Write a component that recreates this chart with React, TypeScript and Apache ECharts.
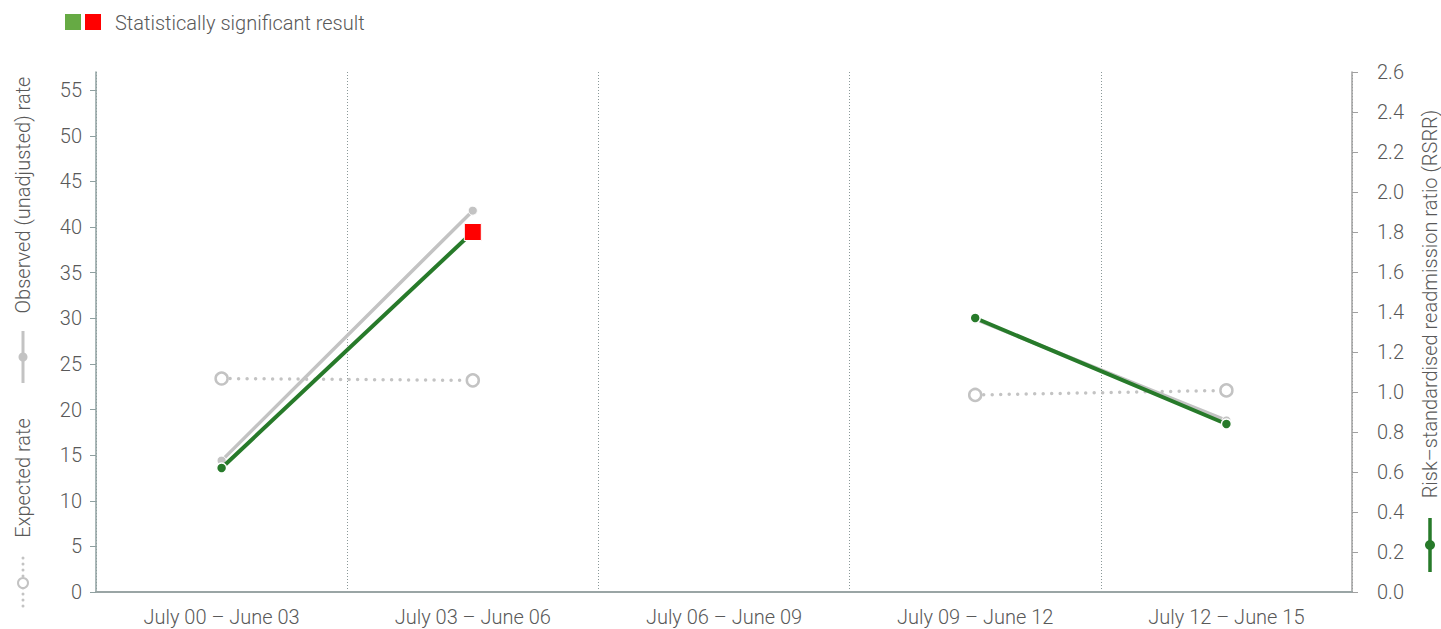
import React, { useEffect, useRef } from "react";
import * as echarts from "echarts";

const categories = ["July 00 – June 03", "July 03 – June 06", "July 06 – June 09", "July 09 – June 12", "July 12 – June 15"];
const observedRate = [14.4, 41.8, null, 29.9, 18.8];
const expectedRate = [23.4, 23.2, null, 21.6, 22.1];
const rsrr = [0.62, 1.8, null, 1.37, 0.84];
const significant = [false, true, false, false, false];
const leftTicks = { min: 0, max: 57, interval: 5 };
const rightTicks = { min: 0, max: 2.6, interval: 0.2 };

const FONT = "Roboto";
const FS = 20;
const TXT = "#595959";
const GREEN = "#277a2a";
const GRAY = "#c3c3c3";

export default function App() {
  const ref = useRef<HTMLDivElement>(null);
  useEffect(() => {
    const chart = echarts.init(ref.current!, null, { renderer: "svg" });
    const labelStyle = { color: TXT, fontSize: FS, fontFamily: FONT, fontWeight: 300 };
    const nameStyle = { fill: TXT, fontSize: FS, fontFamily: FONT, fontWeight: 300, align: "center", verticalAlign: "middle" };
    chart.setOption({
      animation: false,
      grid: { left: 96, right: 89, top: 72, bottom: 37, containLabel: false },
      xAxis: {
        type: "category",
        data: categories,
        axisLine: { lineStyle: { color: "#9aa5a5", width: 2 } },
        axisTick: { show: false },
        axisLabel: { ...labelStyle, margin: 15, interval: 0, lineHeight: 20 },
        splitLine: { show: true, interval: 0, lineStyle: { color: "#8a9898", type: [1, 2], width: 1 } },
      },
      yAxis: [
        {
          type: "value",
          min: leftTicks.min,
          max: leftTicks.max,
          interval: leftTicks.interval,
          axisLine: { show: true, lineStyle: { color: "#8fa0a0", width: 1.5 } },
          axisTick: { show: true, length: 6, lineStyle: { color: "#8fa0a0" } },
          axisLabel: { ...labelStyle, margin: 14, showMaxLabel: false },
          splitLine: { show: false },
        },
        {
          type: "value",
          position: "right",
          min: rightTicks.min,
          max: rightTicks.max,
          interval: rightTicks.interval,
          axisLine: { show: true, lineStyle: { color: "#a0a0a0", width: 1.5 } },
          axisTick: { show: true, length: 6, lineStyle: { color: "#a0a0a0" } },
          axisLabel: { ...labelStyle, margin: 25, formatter: (v: number) => v.toFixed(1) },
          splitLine: { show: false },
        },
      ],
      series: [
        {
          name: "Expected rate",
          type: "line",
          yAxisIndex: 0,
          data: expectedRate,
          connectNulls: false,
          symbol: "circle",
          symbolSize: 12,
          showSymbol: true,
          lineStyle: { color: GRAY, width: 3.5, type: [0, 8.5], cap: "round" },
          itemStyle: { color: "#fff", borderColor: GRAY, borderWidth: 2.5 },
          z: 2,
        },
        {
          name: "Observed (unadjusted) rate",
          type: "line",
          yAxisIndex: 0,
          data: observedRate,
          connectNulls: false,
          symbol: "circle",
          symbolSize: 9,
          lineStyle: { color: GRAY, width: 3.5 },
          itemStyle: { color: GRAY, borderColor: "#fff", borderWidth: 1 },
          z: 3,
        },
        {
          name: "RSRR",
          type: "line",
          yAxisIndex: 1,
          connectNulls: false,
          data: rsrr.map((v, i) =>
            significant[i]
              ? { value: v, symbol: "rect", symbolSize: 17, itemStyle: { color: "#ff0000", borderColor: "#fff", borderWidth: 1 } }
              : v
          ),
          symbol: "circle",
          symbolSize: 10,
          lineStyle: { color: GREEN, width: 4 },
          itemStyle: { color: GREEN, borderColor: "#fff", borderWidth: 1.5 },
          z: 4,
        },
      ],
      graphic: [
        { type: "rect", shape: { x: 65, y: 14, width: 16, height: 16 }, style: { fill: "#66aa44" } },
        { type: "rect", shape: { x: 85, y: 14, width: 16, height: 16 }, style: { fill: "#ff0000" } },
        {
          type: "text",
          x: 115,
          y: 23,
          style: { text: "Statistically significant result", fill: TXT, fontSize: FS, fontFamily: FONT, fontWeight: 300, verticalAlign: "middle" },
        },
        { type: "line", shape: { x1: 23, y1: 558, x2: 23, y2: 608 }, style: { stroke: GRAY, lineWidth: 3, lineDash: [0, 6], lineCap: "round" } },
        { type: "circle", shape: { cx: 23, cy: 583, r: 5 }, style: { fill: "#fff", stroke: GRAY, lineWidth: 2 } },
        { type: "text", x: 23, y: 478, rotation: Math.PI / 2, style: { text: "Expected rate", ...nameStyle } },
        { type: "line", shape: { x1: 23, y1: 331, x2: 23, y2: 383 }, style: { stroke: GRAY, lineWidth: 3 } },
        { type: "circle", shape: { cx: 23, cy: 357, r: 4.5 }, style: { fill: GRAY } },
        { type: "text", x: 23, y: 195, rotation: Math.PI / 2, style: { text: "Observed (unadjusted) rate", ...nameStyle } },
        { type: "line", shape: { x1: 1430, y1: 518, x2: 1430, y2: 572 }, style: { stroke: GREEN, lineWidth: 3.5 } },
        { type: "circle", shape: { cx: 1430, cy: 545, r: 5 }, style: { fill: GREEN } },
        { type: "text", x: 1430, y: 304, rotation: Math.PI / 2, style: { text: "Risk–standardised readmission ratio (RSRR)", ...nameStyle } },
      ],
    });
    return () => chart.dispose();
  }, []);
  return <div ref={ref} style={{ width: 1441, height: 629, position: "absolute", left: 0, top: 0 }} />;
}
